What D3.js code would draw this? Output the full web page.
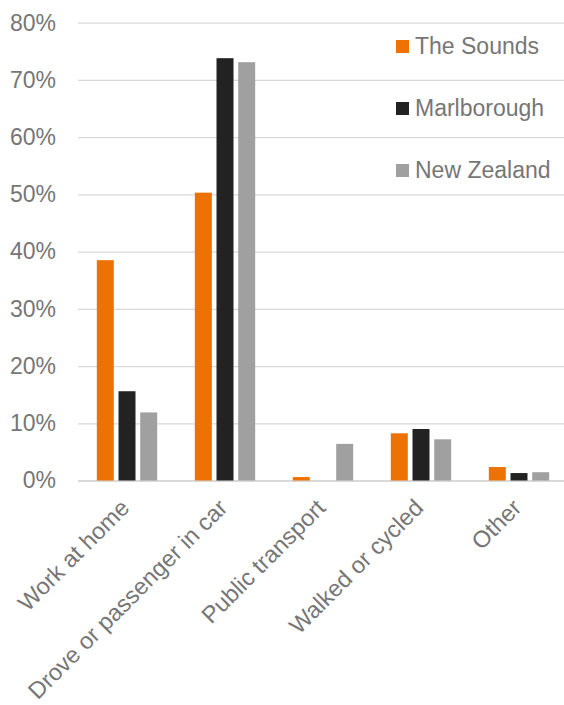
<!DOCTYPE html>
<html>
<head>
<meta charset="utf-8">
<script src="https://cdn.jsdelivr.net/npm/d3@7"></script>
<style>
  body { margin: 0; background: #fff; }
  svg { display: block; font-family: "Liberation Sans", Arial, sans-serif; }
</style>
</head>
<body>
<svg id="chart"></svg>
<script>
const categories = ["Work at home", "Drove or passenger in car", "Public transport", "Walked or cycled", "Other"]
const seriesNames = ["The Sounds", "Marlborough", "New Zealand"]
const soundsValues = [0.385, 0.503, 0.006, 0.0825, 0.0235]
const marlboroughValues = [0.156, 0.738, 0, 0.090, 0.013]
const nzValues = [0.119, 0.731, 0.064, 0.072, 0.0145]
const yTicks = [0, 0.1, 0.2, 0.3, 0.4, 0.5, 0.6, 0.7, 0.8]

const colors = ["#ee7203", "#222222", "#a0a0a0"]
const textColor = "#767676"

const dimensions = {
  width: 564,
  height: 705,
  margin: { top: 22.7, left: 78, right: -4, bottom: 224.5 },
}

const svg = d3.select("#chart")
  .attr("width", dimensions.width)
  .attr("height", dimensions.height)

const table = categories.map((c, i) => ({
  category: c,
  values: [soundsValues[i], marlboroughValues[i], nzValues[i]]
}))

const plotBottom = dimensions.height - dimensions.margin.bottom
const plotRight = dimensions.width - dimensions.margin.right

const yScale = d3.scaleLinear()
  .domain([0, 0.8])
  .range([plotBottom, dimensions.margin.top])

const x0 = d3.scaleBand()
  .domain(categories)
  .range([dimensions.margin.left, plotRight])

const x1 = d3.scaleBand()
  .domain(seriesNames)
  .range([0, x0.bandwidth()])
  .paddingInner(0.217)
  .paddingOuter(0.867)

// gridlines + y labels
const yAxis = d3.axisLeft(yScale)
  .tickValues(yTicks)
  .tickSize(-(plotRight - dimensions.margin.left))
  .tickPadding(22)
  .tickFormat(d3.format(".0%"))

const yAxisGroup = svg.append("g")
  .attr("transform", `translate(${dimensions.margin.left},0)`)
  .call(yAxis)
yAxisGroup.select(".domain").remove()
yAxisGroup.selectAll(".tick line")
  .attr("stroke", "#d9d9d9")
  .attr("stroke-width", d => d === 0 ? 2 : 1.3)
yAxisGroup.selectAll(".tick text")
  .attr("fill", textColor)
  .style("font-size", "23px")

// bars
const groups = svg.append("g")
  .selectAll("g")
  .data(table)
  .enter()
  .append("g")
  .attr("transform", d => `translate(${x0(d.category)},0)`)

groups.selectAll("rect")
  .data(d => d.values.map((v, i) => ({ key: seriesNames[i], value: v, idx: i })))
  .enter()
  .append("rect")
  .filter(d => d.value > 0)
  .attr("x", d => x1(d.key))
  .attr("width", x1.bandwidth())
  .attr("y", d => yScale(d.value))
  .attr("height", d => yScale(0) - yScale(d.value))
  .attr("fill", d => colors[d.idx])

// category labels
const xAxisGroup = svg.append("g")
  .attr("transform", `translate(0,${plotBottom})`)
  .call(d3.axisBottom(x0).tickSize(0))
xAxisGroup.select(".domain").remove()
xAxisGroup.selectAll(".tick text")
  .attr("fill", textColor)
  .style("font-size", "23.5px")
  .attr("text-anchor", "end")
  .attr("x", 0)
  .attr("y", 0)
  .attr("dy", "0.35em")
  .attr("transform", "translate(-2,23) rotate(-45)")

// legend
const legend = svg.append("g")
  .attr("transform", "translate(396,0)")

legend.selectAll("rect")
  .data(seriesNames)
  .enter()
  .append("rect")
  .attr("x", 0)
  .attr("y", (d, i) => 40 + i * 62)
  .attr("width", 13)
  .attr("height", 13)
  .attr("fill", (d, i) => colors[i])

legend.selectAll("text")
  .data(seriesNames)
  .enter()
  .append("text")
  .attr("x", 19)
  .attr("y", (d, i) => 54 + i * 62)
  .attr("fill", textColor)
  .style("font-size", "23px")
  .text(d => d)
</script>
</body>
</html>
